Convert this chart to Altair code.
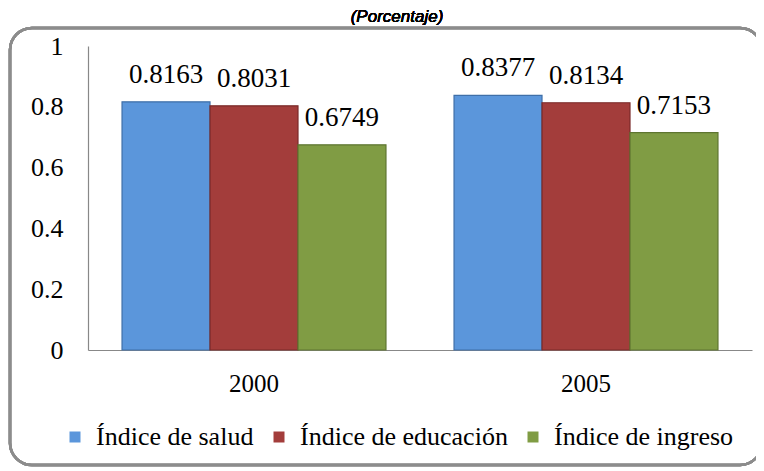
import altair as alt
import pandas as pd

years = ["2000", "2000", "2000", "2005", "2005", "2005"]
series = ["Índice de salud", "Índice de educación", "Índice de ingreso"] * 2
values = [0.8163, 0.8031, 0.6749, 0.8377, 0.8134, 0.7153]
labels = ["0.8163", "0.8031", "0.6749", "0.8377", "0.8134", "0.7153"]
order = ["Índice de salud", "Índice de educación", "Índice de ingreso"]
colors = ["#5B96DB", "#A33D3B", "#809C44"]
strokes = ["#3F6FA8", "#7A2A29", "#5E7530"]
title_text = "(Porcentaje)"

df = pd.DataFrame({"year": years, "serie": series, "value": values, "label": labels})

SERIF = "'Liberation Serif', 'DejaVu Serif', serif"

x = alt.X("year:N", title=None,
          scale=alt.Scale(paddingInner=0.205, paddingOuter=0.1025),
          axis=alt.Axis(labelAngle=0, labelFont=SERIF, labelFontSize=25, labelColor="#000",
                        domainColor="#888", domainWidth=1.2, ticks=False, labelPadding=21))
xo = alt.XOffset("serie:N", sort=order, scale=alt.Scale(paddingInner=0, paddingOuter=0))
y = alt.Y("value:Q", title=None,
          scale=alt.Scale(domain=[0, 1]),
          axis=alt.Axis(values=[0, 0.2, 0.4, 0.6, 0.8, 1], format="~g", grid=False, ticks=False,
                        labelFont=SERIF, labelFontSize=26, labelColor="#000", labelPadding=25,
                        domainColor="#888", domainWidth=1.2))

bars = alt.Chart(df).mark_bar(strokeWidth=1.2).encode(
    x=x, xOffset=xo, y=y,
    color=alt.Color("serie:N", sort=order, scale=alt.Scale(domain=order, range=colors),
                    legend=alt.Legend(title=None, orient="none", legendX=-26, legendY=378,
                                      direction="horizontal", symbolType="square", symbolSize=121,
                                      symbolStrokeWidth=0, labelFont=SERIF, labelFontSize=26,
                                      labelColor="#000", labelLimit=400, columnPadding=12,
                                      symbolOffset=0, labelOffset=8)),
    stroke=alt.Stroke("serie:N", sort=order, scale=alt.Scale(domain=order, range=strokes), legend=None),
)

text = alt.Chart(df).mark_text(baseline="alphabetic", dy=-19, font=SERIF, fontSize=27, color="#000").encode(
    x=x, xOffset=xo, y=y, text="label:N")

frame = alt.Chart(df).mark_rect(fill=None, stroke="#8C8C8C", strokeWidth=2.5, cornerRadius=22).encode(
    x=alt.value(-78), x2=alt.value(674), y=alt.value(-18), y2=alt.value(419))

title = alt.Chart(df).mark_text(font="'Liberation Sans', Arial, sans-serif", fontSize=17, fontStyle="italic",
                                fontWeight="normal", baseline="alphabetic", align="center",
                                color="#000").encode(
    x=alt.value(309), y=alt.value(-24), text=alt.value(title_text))

chart = alt.layer(frame, bars, text, title).properties(
    width=664, height=304,
    padding={"left": 80, "top": 38, "right": 4, "bottom": 117},
    autosize=alt.AutoSizeParams(type="none"),
).configure_view(stroke=None)

chart.save("out.html", embed_options={"renderer": "svg", "actions": False})
